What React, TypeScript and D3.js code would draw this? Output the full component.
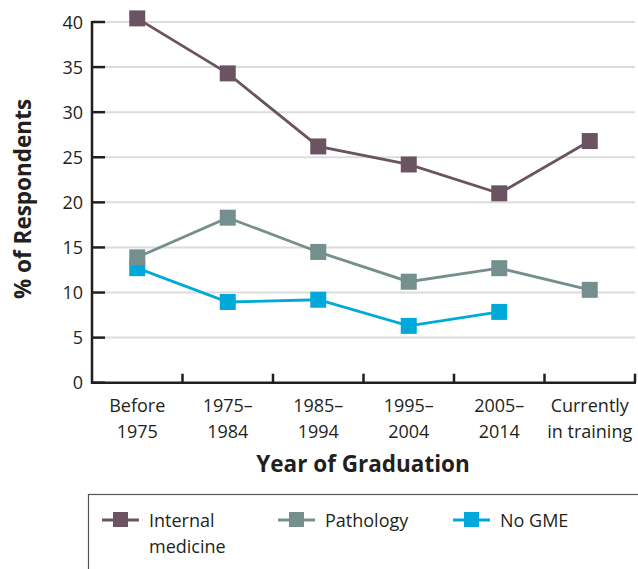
import * as d3 from "d3";
import React, { useRef, useEffect } from "react";

const categories = [
  ["Before", "1975"],
  ["1975–", "1984"],
  ["1985–", "1994"],
  ["1995–", "2004"],
  ["2005–", "2014"],
  ["Currently", "in training"],
];
const internalMedicine = [40.4, 34.3, 26.2, 24.2, 21.0, 26.8];
const pathology = [13.9, 18.3, 14.5, 11.2, 12.7, 10.3];
const noGME = [12.7, 8.95, 9.2, 6.3, 7.85];
const yTicks = [0, 5, 10, 15, 20, 25, 30, 35, 40];

const FONT = "'Open Sans', 'Noto Sans', sans-serif";

const series = [
  { name: ["Internal", "medicine"], values: internalMedicine, color: "#6b5461" },
  { name: ["No GME"], values: noGME, color: "#00a9d9" },
  { name: ["Pathology"], values: pathology, color: "#748f8e" },
];

export default function App() {
  const svgRef = useRef(null);
  const width = 638;
  const height = 569;

  useEffect(() => {
    const svg = d3.select(svgRef.current);
    svg.selectAll("*").remove();

    const left = 92, right = 635, top = 22, bottom = 382.7;
    const x = d3.scaleBand().domain(categories.map((_, i) => String(i))).range([left, right]);
    const y = d3.scaleLinear().domain([0, 40]).range([bottom, top]);
    const cx = (i) => x(String(i)) + x.bandwidth() / 2;

    // gridlines
    svg.append("g")
      .selectAll("line")
      .data(yTicks.filter((d) => d > 0))
      .enter()
      .append("line")
      .attr("x1", left + 13)
      .attr("x2", right)
      .attr("y1", (d) => y(d))
      .attr("y2", (d) => y(d))
      .attr("stroke", "#dcdcdc")
      .attr("stroke-width", 2);

    // y axis
    svg.append("line")
      .attr("x1", left).attr("x2", left)
      .attr("y1", top - 1).attr("y2", bottom + 1)
      .attr("stroke", "#231f20").attr("stroke-width", 2.5);
    svg.append("g")
      .selectAll("line")
      .data(yTicks)
      .enter()
      .append("line")
      .attr("x1", left).attr("x2", left + 13)
      .attr("y1", (d) => y(d)).attr("y2", (d) => y(d))
      .attr("stroke", "#231f20").attr("stroke-width", 2.5);
    svg.append("g")
      .selectAll("text")
      .data(yTicks)
      .enter()
      .append("text")
      .attr("x", left - 9)
      .attr("y", (d) => y(d) + 6.5)
      .attr("text-anchor", "end")
      .attr("font-family", FONT)
      .attr("font-size", 18)
      .attr("fill", "#231f20")
      .text((d) => d);

    // x axis
    svg.append("line")
      .attr("x1", left - 1).attr("x2", right + 1)
      .attr("y1", bottom).attr("y2", bottom)
      .attr("stroke", "#231f20").attr("stroke-width", 2.5);
    svg.append("g")
      .selectAll("line")
      .data(categories.map((_, i) => i + 1))
      .enter()
      .append("line")
      .attr("x1", (d) => left + d * x.step())
      .attr("x2", (d) => left + d * x.step())
      .attr("y1", bottom).attr("y2", bottom - 9)
      .attr("stroke", "#231f20").attr("stroke-width", 2.5);
    const xl = svg.append("g")
      .selectAll("text")
      .data(categories)
      .enter()
      .append("text")
      .attr("text-anchor", "middle")
      .attr("font-family", FONT)
      .attr("font-size", 18)
      .attr("fill", "#231f20");
    xl.append("tspan").attr("x", (d, i) => cx(i)).attr("y", 412).text((d) => d[0]);
    xl.append("tspan").attr("x", (d, i) => cx(i)).attr("y", 438).text((d) => d[1]);

    // titles
    svg.append("text")
      .attr("x", 363).attr("y", 472)
      .attr("text-anchor", "middle")
      .attr("font-family", FONT).attr("font-size", 22.5).attr("font-weight", "bold")
      .attr("fill", "#231f20")
      .text("Year of Graduation");
    svg.append("text")
      .attr("transform", `translate(31,199) rotate(-90)`)
      .attr("text-anchor", "middle")
      .attr("font-family", FONT).attr("font-size", 22.5).attr("font-weight", "bold")
      .attr("fill", "#231f20")
      .text("% of Respondents");

    // lines & markers
    const line = d3.line().x((d, i) => cx(i)).y((d) => y(d));
    series.forEach((s) => {
      svg.append("path")
        .datum(s.values)
        .attr("fill", "none")
        .attr("stroke", s.color)
        .attr("stroke-width", 2.8)
        .attr("d", line);
      svg.append("g")
        .selectAll("rect")
        .data(s.values)
        .enter()
        .append("rect")
        .attr("x", (d, i) => cx(i) - 8)
        .attr("y", (d) => y(d) - 8)
        .attr("width", 16)
        .attr("height", 16)
        .attr("fill", s.color);
    });

    // legend
    svg.append("rect")
      .attr("x", 88.5).attr("y", 494.5)
      .attr("width", 560).attr("height", 90)
      .attr("fill", "none").attr("stroke", "#555").attr("stroke-width", 1.2);
    const legendItems = [series[0], series[2], series[1]];
    const legendX = [102, 278, 453];
    legendItems.forEach((s, i) => {
      const lx = legendX[i];
      svg.append("line")
        .attr("x1", lx).attr("x2", lx + 37)
        .attr("y1", 520).attr("y2", 520)
        .attr("stroke", s.color).attr("stroke-width", 2.8);
      svg.append("rect")
        .attr("x", lx + 11).attr("y", 512)
        .attr("width", 15).attr("height", 15)
        .attr("fill", s.color);
      s.name.forEach((t, j) => {
        svg.append("text")
          .attr("x", lx + 47).attr("y", 527 + j * 26)
          .attr("font-family", FONT).attr("font-size", 18)
          .attr("fill", "#231f20")
          .text(t);
      });
    });
  }, []);

  return (
    <svg
      ref={svgRef}
      width={width}
      height={height}
      style={{ position: "absolute", left: 0, top: 0, background: "#fff" }}
    />
  );
}
